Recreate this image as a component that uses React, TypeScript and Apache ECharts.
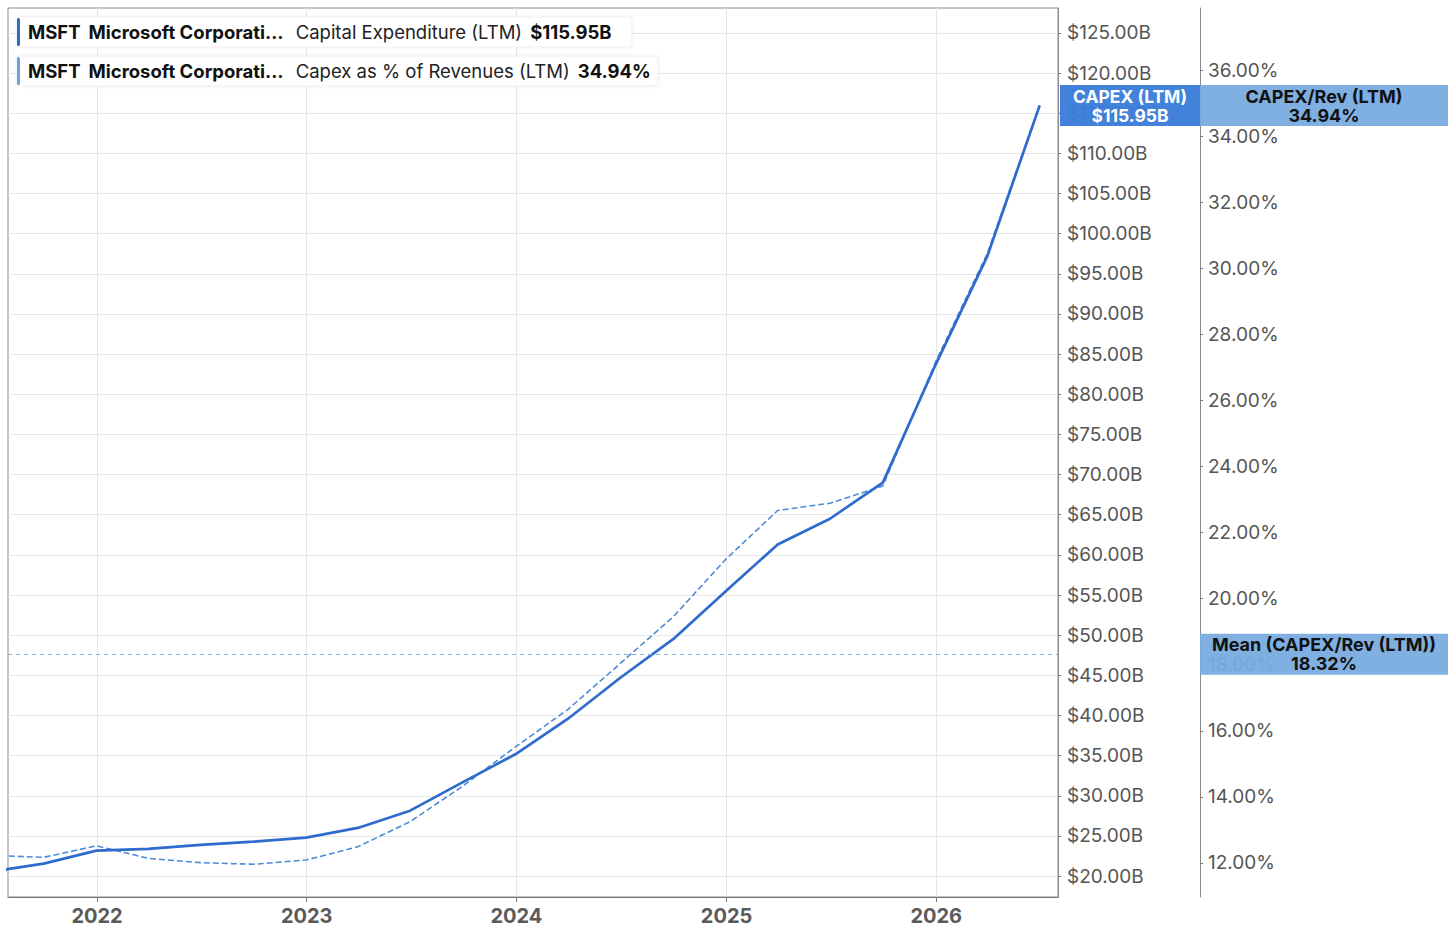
import React, { useEffect, useRef } from "react";
import * as echarts from "echarts";

// ---- data ----
const quarterEnds = [
  "2021-06-30", "2021-09-30", "2021-12-31", "2022-03-31", "2022-06-30", "2022-09-30", "2022-12-31",
  "2023-03-31", "2023-06-30", "2023-09-30", "2023-12-31", "2024-03-31", "2024-06-30", "2024-09-30",
  "2024-12-31", "2025-03-31", "2025-06-30", "2025-09-30", "2025-12-31", "2026-03-31", "2026-06-30",
];
const capexLTM = [
  20.56, 21.55, 23.17, 23.4, 23.9, 24.3, 24.8,
  26.0, 28.15, 31.7, 35.2, 39.6, 44.7, 49.5,
  55.5, 61.3, 64.5, 69.0, 83.7, 97.2, 115.95,
];
const capexPctRev = [
  12.23, 12.17, 12.52, 12.14, 12.01, 11.96, 12.09,
  12.49, 13.25, 14.33, 15.52, 16.65, 18.04, 19.45,
  21.2, 22.67, 22.89, 23.41, 27.17, 30.45, 34.94,
];
const meanPct = 18.32;
const capexTicks = [20, 25, 30, 35, 40, 45, 50, 55, 60, 65, 70, 75, 80, 85, 90, 95, 100, 105, 110, 115, 120, 125];
const pctTicks = [12, 14, 16, 18, 20, 22, 24, 26, 28, 30, 32, 34, 36];
const yearTicks = [2022, 2023, 2024, 2025, 2026];

const capexName = "Capital Expenditure (LTM)";
const pctName = "Capex as % of Revenues (LTM)";
const company = "MSFT";
const companyName = "Microsoft Corporati\u2026";

const FONT = "Inter, 'Noto Sans', sans-serif";
const C_SOLID = "#2f6bcc";
const C_DASH = "#4b8bd6";
const C_MEAN = "#7fb1e3";
const C_BOX1 = "rgba(58,125,217,0.96)";
const C_BOX2 = "rgba(120,171,224,0.94)";

const fmtB = (v: number) => `$${v.toFixed(2)}B`;
const fmtP = (v: number) => `${v.toFixed(2)}%`;
const ts = (s: string) => {
  const [y, m, d] = s.split("-").map(Number);
  return new Date(y, m - 1, d).getTime();
};

export default function App() {
  const ref = useRef<HTMLDivElement>(null);
  useEffect(() => {
    const el = ref.current!;
    const chart = echarts.init(el, null, { renderer: "svg" });
    const xMin = new Date(2021, 6, 30).getTime();
    const xMax = new Date(2026, 7, 1).getTime();
    const yearTs = yearTicks.map((y) => new Date(y, 0, 1).getTime());

    const option: any = {
      animation: false,
      backgroundColor: "#ffffff",
      grid: {
        left: 8, right: 398, top: 8, bottom: 38,
        show: true, borderColor: "#8a8a8a", borderWidth: 1, backgroundColor: "transparent",
      },
      xAxis: {
        type: "value", min: xMin, max: xMax,
        axisLine: { show: true, lineStyle: { color: "#777", width: 1 } },
        axisTick: { show: true, customValues: yearTs, length: 5, lineStyle: { color: "#777" } },
        axisLabel: {
          customValues: yearTs,
          formatter: (v: number) => String(new Date(v).getFullYear()),
          color: "#5a5a5a", fontFamily: FONT, fontSize: 20, fontWeight: "bold", margin: 9,
        },
        splitLine: { show: true, lineStyle: { color: "#e6e6e6", width: 1 } },
      },
      yAxis: [
        {
          type: "value", position: "right", min: 17.4, max: 128.1,
          axisLine: { show: true, lineStyle: { color: "#8a8a8a", width: 1 } },
          axisTick: { show: true, customValues: capexTicks, length: 3, lineStyle: { color: "#777" } },
          axisLabel: {
            customValues: capexTicks, formatter: fmtB,
            color: "#555", fontFamily: FONT, fontSize: 19, margin: 9,
          },
          splitLine: { show: true, lineStyle: { color: "#e6e6e6", width: 1 } },
        },
        {
          type: "value", position: "right", offset: 142, min: 10.97, max: 37.88,
          axisLine: { show: true, onZero: false, lineStyle: { color: "#8a8a8a", width: 1 } },
          axisTick: { show: true, customValues: pctTicks, length: 3, lineStyle: { color: "#777" } },
          axisLabel: {
            customValues: pctTicks, formatter: fmtP,
            color: "#555", fontFamily: FONT, fontSize: 19, margin: 8,
          },
          splitLine: { show: false },
        },
      ],
      series: [
        {
          name: pctName, type: "line", yAxisIndex: 1, symbol: "none", z: 2,
          data: quarterEnds.map((d, i) => [ts(d), capexPctRev[i]]),
          lineStyle: { color: C_DASH, width: 1.6, type: [6, 3] },
          markLine: {
            silent: true, symbol: "none", animation: false,
            label: { show: false },
            lineStyle: { color: C_MEAN, width: 1.2, type: [4, 4] },
            data: [{ yAxis: meanPct }],
          },
        },
        {
          name: capexName, type: "line", yAxisIndex: 0, symbol: "none", z: 3,
          data: quarterEnds.map((d, i) => [ts(d), capexLTM[i]]),
          lineStyle: { color: C_SOLID, width: 2.7 },
        },
      ],
    };
    chart.setOption(option);

    const lastCapex = capexLTM[capexLTM.length - 1];
    const lastPct = capexPctRev[capexPctRev.length - 1];
    const axis1X = chart.convertToPixel({ xAxisIndex: 0 }, xMax) as number;
    const axis2X = axis1X + 142;
    const yCapex = chart.convertToPixel({ yAxisIndex: 0 }, lastCapex) as number;
    const yMean = chart.convertToPixel({ yAxisIndex: 1 }, meanPct) as number;
    const boxH = 41;
    const box2W = 248;

    const box = (x: number, w: number, yc: number, fill: string, text: string, color: string, fs: number) => [
      { type: "rect", z: 100, shape: { x, y: yc - boxH / 2, width: w, height: boxH }, style: { fill } },
      {
        type: "text", z: 101, x: x + w / 2, y: yc,
        style: {
          text, fill: color, fontFamily: FONT, fontSize: fs, fontWeight: "bold",
          align: "center", verticalAlign: "middle", lineHeight: 19,
        },
      },
    ];

    const legendRow = (y: number, w: number, bar: string, name: string, value: string) => [
      {
        type: "rect", z: 100, shape: { x: 17, y, width: w, height: 30, r: 3 },
        style: { fill: "#ffffff", stroke: "#efefef", lineWidth: 1, shadowBlur: 3, shadowColor: "rgba(0,0,0,0.08)" },
      },
      { type: "rect", z: 101, shape: { x: 17, y: y + 1, width: 3, height: 28, r: 1.5 }, style: { fill: bar } },
      {
        type: "text", z: 101, x: 28, y: y + 15,
        style: {
          text: `{b|${company}}{g1| }{b|${companyName}}{g2| }{r|${name}}{g1| }{b|${value}}`,
          verticalAlign: "middle",
          rich: {
            b: { fontFamily: FONT, fontSize: 18.5, fontWeight: 700, fill: "#111" },
            r: { fontFamily: FONT, fontSize: 18.5, fill: "#222" },
            g1: { fontFamily: FONT, fontSize: 18.5, width: 8 },
            g2: { fontFamily: FONT, fontSize: 18.5, width: 12 },
          },
        },
      },
    ];

    chart.setOption({
      graphic: [
        ...legendRow(17, 615, C_SOLID, capexName, fmtB(lastCapex)),
        ...legendRow(56, 641, "#6aa3e3", pctName, fmtP(lastPct)),
        ...box(axis1X + 2, axis2X - axis1X - 2, yCapex, C_BOX1, `CAPEX (LTM)\n${fmtB(lastCapex)}`, "#ffffff", 17.5),
        ...box(axis2X, box2W, yCapex, C_BOX2, `CAPEX/Rev (LTM)\n${fmtP(lastPct)}`, "#111111", 18),
        ...box(axis2X, box2W, yMean, C_BOX2, `Mean (CAPEX/Rev (LTM))\n${fmtP(meanPct)}`, "#111111", 18),
      ],
    });

    return () => chart.dispose();
  }, []);
  return (
    <div
      ref={ref}
      style={{ position: "fixed", left: 0, top: 0, width: 1456, height: 935, background: "#fff" }}
    />
  );
}
